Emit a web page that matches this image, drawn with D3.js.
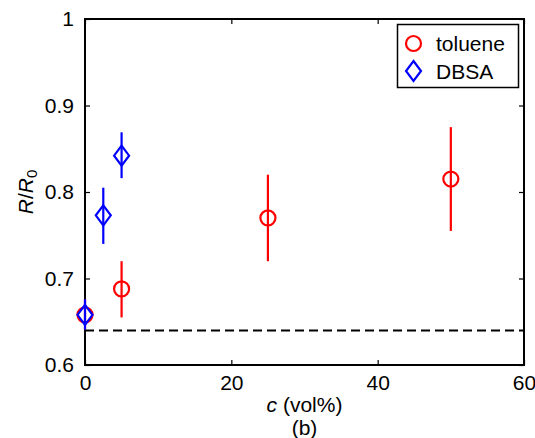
<!DOCTYPE html>
<html><head><meta charset="utf-8">
<script src="https://cdn.jsdelivr.net/npm/d3@7"></script>
<style>body{margin:0;background:#fff}svg{font-family:"Liberation Sans",Arial,sans-serif}</style>
</head><body><svg id="c" width="535" height="438"></svg>
<script>
const xTicks = [0, 20, 40, 60];
const yTicks = [0.6, 0.7, 0.8, 0.9, 1];
const yTickLabels = ["0.6", "0.7", "0.8", "0.9", "1"];
const tolueneX = [0, 5, 25, 50];
const tolueneY = [0.658, 0.688, 0.770, 0.815];
const tolueneLo = [0.641, 0.655, 0.720, 0.755];
const tolueneHi = [0.676, 0.720, 0.820, 0.875];
const dbsaX = [0, 2.5, 5];
const dbsaY = [0.658, 0.773, 0.842];
const dbsaLo = [0.641, 0.740, 0.816];
const dbsaHi = [0.676, 0.805, 0.869];
const baseline = 0.640;
const seriesNames = ["toluene", "DBSA"];

const svg = d3.select("#c");
const L = 85, R = 524, T = 19, B = 365;
const x = d3.scaleLinear().domain([0, 60]).range([L, R]);
const y = d3.scaleLinear().domain([0.6, 1]).range([B, T]);
const red = "#ff0000", blue = "#0000ff";

// dashed baseline
svg.append("line").attr("x1", x(0)).attr("x2", x(60)).attr("y1", y(baseline)).attr("y2", y(baseline))
  .attr("stroke", "#000").attr("stroke-width", 2).attr("stroke-dasharray", "9,5");

// axes
const fs = 21;
const gx = svg.append("g").attr("transform", `translate(0,${B})`)
  .call(d3.axisBottom(x).tickValues(xTicks).tickSizeInner(-5).tickSizeOuter(0).tickPadding(10));
const gxt = svg.append("g").attr("transform", `translate(0,${T})`)
  .call(d3.axisTop(x).tickValues(xTicks).tickSizeInner(-5).tickSizeOuter(0).tickFormat(""));
const gy = svg.append("g").attr("transform", `translate(${L},0)`)
  .call(d3.axisLeft(y).tickValues(yTicks).tickSizeInner(-5).tickSizeOuter(0).tickPadding(11)
  .tickFormat((d, i) => yTickLabels[i]));
const gyr = svg.append("g").attr("transform", `translate(${R},0)`)
  .call(d3.axisRight(y).tickValues(yTicks).tickSizeInner(-5).tickSizeOuter(0).tickFormat(""));
[gx, gxt, gy, gyr].forEach(g => {
  g.select(".domain").remove();
  g.selectAll(".tick line").attr("stroke", "#000").attr("stroke-width", 1.2);
  g.selectAll("text").attr("font-size", fs).attr("fill", "#000").attr("font-family", "Liberation Sans, Arial, sans-serif");
});
svg.append("rect").attr("x", L).attr("y", T).attr("width", R - L).attr("height", B - T)
  .attr("fill", "none").attr("stroke", "#000").attr("stroke-width", 2);

// error bars & markers
function errbars(xs, lo, hi, col) {
  svg.append("g").selectAll("line").data(xs).join("line")
    .attr("x1", d => x(d)).attr("x2", d => x(d))
    .attr("y1", (d, i) => y(lo[i])).attr("y2", (d, i) => y(hi[i]))
    .attr("stroke", col).attr("stroke-width", 2.2);
}
errbars(tolueneX, tolueneLo, tolueneHi, red);
svg.append("g").selectAll("circle").data(tolueneX).join("circle")
  .attr("cx", d => x(d)).attr("cy", (d, i) => y(tolueneY[i])).attr("r", 7.5)
  .attr("fill", "none").attr("stroke", red).attr("stroke-width", 2.2);
errbars(dbsaX, dbsaLo, dbsaHi, blue);
const dpath = (cx, cy) => `M${cx},${cy - 10}L${cx + 7.5},${cy}L${cx},${cy + 10}L${cx - 7.5},${cy}Z`;
svg.append("g").selectAll("path").data(dbsaX).join("path")
  .attr("d", (d, i) => dpath(x(d), y(dbsaY[i])))
  .attr("fill", "none").attr("stroke", blue).attr("stroke-width", 2.2);

// legend
svg.append("rect").attr("x", 397.5).attr("y", 24.5).attr("width", 121).attr("height", 63)
  .attr("fill", "#fff").attr("stroke", "#000").attr("stroke-width", 1.5);
svg.append("circle").attr("cx", 413.5).attr("cy", 43.5).attr("r", 7.5)
  .attr("fill", "none").attr("stroke", red).attr("stroke-width", 2.2);
svg.append("path").attr("d", dpath(413.5, 71)).attr("fill", "none").attr("stroke", blue).attr("stroke-width", 2.2);
svg.append("text").attr("x", 436).attr("y", 51).attr("font-size", fs).text(seriesNames[0]);
svg.append("text").attr("x", 436).attr("y", 79).attr("font-size", fs).text(seriesNames[1]);

// axis labels
const xl = svg.append("text").attr("x", (L + R) / 2).attr("y", 412).attr("text-anchor", "middle").attr("font-size", fs);
xl.append("tspan").attr("font-style", "italic").text("c");
xl.append("tspan").text(" (vol%)");
svg.append("text").attr("x", (L + R) / 2).attr("y", 435).attr("text-anchor", "middle").attr("font-size", fs).text("(b)");
const yl = svg.append("text").attr("transform", `translate(33,${(T + B) / 2}) rotate(-90)`)
  .attr("text-anchor", "middle").attr("font-size", fs);
yl.append("tspan").attr("font-style", "italic").text("R");
yl.append("tspan").text("/");
yl.append("tspan").attr("font-style", "italic").text("R");
yl.append("tspan").attr("font-size", 15).attr("dy", 4).text("0");
</script></body></html>
